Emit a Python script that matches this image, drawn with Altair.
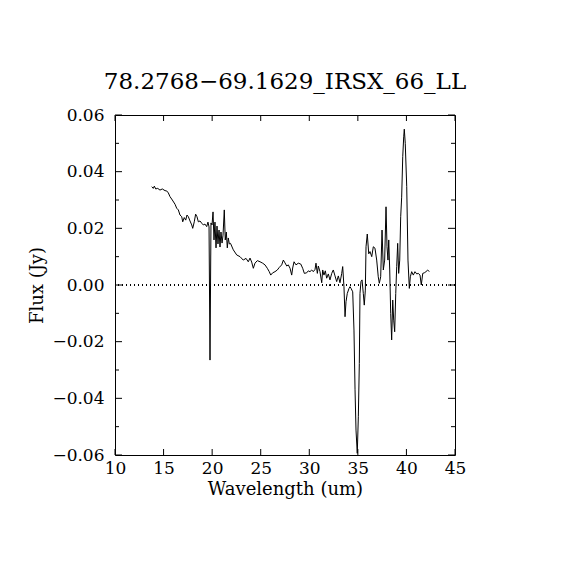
import altair as alt
import pandas as pd

wavelength = [13.78, 13.94, 14.05, 14.19, 14.40, 14.63, 14.87, 15.15, 15.32, 15.49, 15.66, 15.90,
              16.18, 16.35, 16.52, 16.69, 16.87, 16.97, 17.13, 17.28, 17.41, 17.55, 17.72, 17.90,
              18.00, 18.16, 18.30, 18.44, 18.58, 18.75, 18.93, 19.09, 19.26, 19.44, 19.57, 19.68,
              19.78, 19.88, 19.99, 20.09, 20.19, 20.29, 20.40, 20.50, 20.60, 20.71, 20.81, 20.91,
              21.02, 21.12, 21.25, 21.35, 21.46, 21.56, 21.66, 21.77, 21.89, 22.18, 22.53, 22.87,
              23.20, 23.49, 23.72, 23.90, 24.07, 24.24, 24.41, 24.65, 24.93, 25.20, 25.44, 25.68,
              25.88, 26.03, 26.23, 26.47, 26.71, 26.91, 27.16, 27.33, 27.50, 27.68, 27.84, 28.02,
              28.19, 28.29, 28.43, 28.63, 28.87, 29.12, 29.32, 29.49, 29.73, 29.90, 30.07, 30.25,
              30.41, 30.59, 30.69, 30.83, 30.93, 31.10, 31.28, 31.38, 31.51, 31.65, 31.79, 31.96,
              32.13, 32.31, 32.47, 32.65, 32.82, 32.99, 33.16, 33.34, 33.44, 33.57, 33.68, 33.78,
              33.91, 34.09, 34.19, 34.30, 34.47, 34.60, 34.71, 34.81, 34.94, 35.05, 35.15, 35.22,
              35.32, 35.43, 35.56, 35.66, 35.77, 35.84, 35.97, 36.12, 36.25, 36.43, 36.59, 36.76,
              36.94, 37.10, 37.21, 37.35, 37.49, 37.62, 37.76, 37.90, 38.00, 38.10, 38.18, 38.28,
              38.38, 38.48, 38.59, 38.69, 38.79, 38.90, 39.00, 39.10, 39.20, 39.31, 39.41, 39.51,
              39.62, 39.72, 39.78, 39.88, 40.03, 40.16, 40.30, 40.40, 40.54, 40.71, 40.88, 41.06,
              41.22, 41.40, 41.53, 41.68, 41.84, 42.01, 42.19, 42.35]

flux = [0.0347, 0.0341, 0.0349, 0.0339, 0.0341, 0.0335, 0.0339, 0.0333, 0.0332, 0.0325, 0.0312, 0.0300,
        0.0285, 0.0271, 0.0265, 0.0247, 0.0241, 0.0223, 0.0238, 0.0229, 0.0247, 0.0241, 0.0226, 0.0212,
        0.0200, 0.0223, 0.0250, 0.0241, 0.0223, 0.0226, 0.0218, 0.0212, 0.0215, 0.0206, 0.0222, 0.0205,
        -0.0265, 0.0219, 0.0212, 0.0258, 0.0159, 0.0222, 0.0131, 0.0208, 0.0145, 0.0194, 0.0134, 0.0187,
        0.0148, 0.0176, 0.0265, 0.0159, 0.0187, 0.0131, 0.0166, 0.0145, 0.0147, 0.0124, 0.0106, 0.0100,
        0.0088, 0.0094, 0.0082, 0.0095, 0.0081, 0.0059, 0.0077, 0.0086, 0.0082, 0.0077, 0.0071, 0.0059,
        0.0047, 0.0035, 0.0043, 0.0047, 0.0053, 0.0062, 0.0071, 0.0088, 0.0078, 0.0067, 0.0071, 0.0059,
        0.0035, 0.0060, 0.0082, 0.0071, 0.0077, 0.0074, 0.0059, 0.0041, 0.0043, 0.0050, 0.0047, 0.0053,
        0.0047, 0.0055, 0.0077, 0.0041, 0.0067, 0.0047, 0.0008, 0.0053, 0.0035, 0.0050, 0.0024, 0.0039,
        0.0018, 0.0041, 0.0053, 0.0032, 0.0012, 0.0032, 0.0008, 0.0041, 0.0065, -0.0006, -0.0112, -0.0059,
        -0.0030, -0.0012, -0.0006, -0.0012, -0.0024, -0.0159, -0.0370, -0.0512, -0.0594, -0.0465, -0.0277, -0.0030,
        0.0012, 0.0018, -0.0030, -0.0071, -0.0018, 0.0135, 0.0180, 0.0110, 0.0118, 0.0100, 0.0135, 0.0130,
        0.0088, 0.0029, 0.0006, 0.0029, 0.0194, 0.0053, 0.0088, 0.0276, 0.0135, 0.0088, 0.0159, 0.0053,
        -0.0100, -0.0194, -0.0053, -0.0124, -0.0165, -0.0030, 0.0065, 0.0147, 0.0041, 0.0088, 0.0241, 0.0310,
        0.0453, 0.0523, 0.0550, 0.0500, 0.0347, 0.0088, -0.0012, 0.0029, 0.0047, 0.0035, 0.0047, 0.0039,
        0.0041, 0.0035, 0.0000, 0.0041, 0.0043, 0.0047, 0.0053, 0.0047]

x_ticks = [10, 15, 20, 25, 30, 35, 40, 45]
y_major = [-0.06, -0.04, -0.02, 0.0, 0.02, 0.04, 0.06]
y_minor = [-0.05, -0.03, -0.01, 0.01, 0.03, 0.05]

title_text = "78.2768\u221269.1629_IRSX_66_LL"

df = pd.DataFrame({"wavelength": wavelength, "flux": flux})
df_xt = pd.DataFrame({"wavelength": x_ticks})
df_ymaj = pd.DataFrame({"flux": y_major})
df_ymin = pd.DataFrame({"flux": y_minor})

FONT = "DejaVu Serif"
W = H = 340
MAJ, MIN = 7, 4

xscale = alt.Scale(domain=[10, 45], nice=False, zero=False)
yscale = alt.Scale(domain=[-0.06, 0.06], nice=False, zero=False)

x_axis = alt.Axis(
    values=x_ticks, title="Wavelength (um)", format="d",
    grid=False, ticks=False, domain=False, labelFlush=False,
    labelPadding=5, titlePadding=4,
    labelFont=FONT, labelFontSize=17, labelColor="black",
    titleFont=FONT, titleFontSize=18, titleFontWeight="normal", titleColor="black",
)
y_axis = alt.Axis(
    values=y_major, title="Flux (Jy)", format=".2f",
    grid=False, ticks=False, domain=False, labelFlush=False,
    labelPadding=11, titlePadding=5,
    labelFont=FONT, labelFontSize=17, labelColor="black",
    titleFont=FONT, titleFontSize=18, titleFontWeight="normal", titleColor="black",
)

x_enc = alt.X("wavelength:Q", scale=xscale, axis=x_axis)
y_enc = alt.Y("flux:Q", scale=yscale, axis=y_axis)

line = alt.Chart(df).mark_line(color="black", strokeWidth=1).encode(x=x_enc, y=y_enc)

zero = alt.Chart(df).mark_rule(color="black", strokeWidth=1, strokeDash=[1, 3]).encode(
    y=alt.datum(0)
)

tick_style = dict(color="black", strokeWidth=1)

ticks_layers = [
    alt.Chart(df_ymaj).mark_rule(**tick_style).encode(y=y_enc, x=alt.value(0), x2=alt.value(MAJ)),
    alt.Chart(df_ymaj).mark_rule(**tick_style).encode(y=y_enc, x=alt.value(W - MAJ), x2=alt.value(W)),
    alt.Chart(df_ymin).mark_rule(**tick_style).encode(y=y_enc, x=alt.value(0), x2=alt.value(MIN)),
    alt.Chart(df_ymin).mark_rule(**tick_style).encode(y=y_enc, x=alt.value(W - MIN), x2=alt.value(W)),
    alt.Chart(df_xt).mark_rule(**tick_style).encode(x=x_enc, y=alt.value(H - 6), y2=alt.value(H)),
    alt.Chart(df_xt).mark_rule(**tick_style).encode(x=x_enc, y=alt.value(0), y2=alt.value(6)),
]

chart = (
    alt.layer(line, zero, *ticks_layers)
    .properties(
        width=W,
        height=H,
        background="white",
        title=alt.TitleParams(title_text, font=FONT, fontSize=23, fontWeight="normal",
                              color="black", offset=12, anchor="middle"),
        autosize=alt.AutoSizeParams(type="none"),
        padding={"left": 107, "top": 107, "right": 100, "bottom": 100},
    )
    .configure_view(stroke="black", strokeWidth=1)
)

chart.save("out.html", embed_options={"renderer": "svg", "actions": False})
